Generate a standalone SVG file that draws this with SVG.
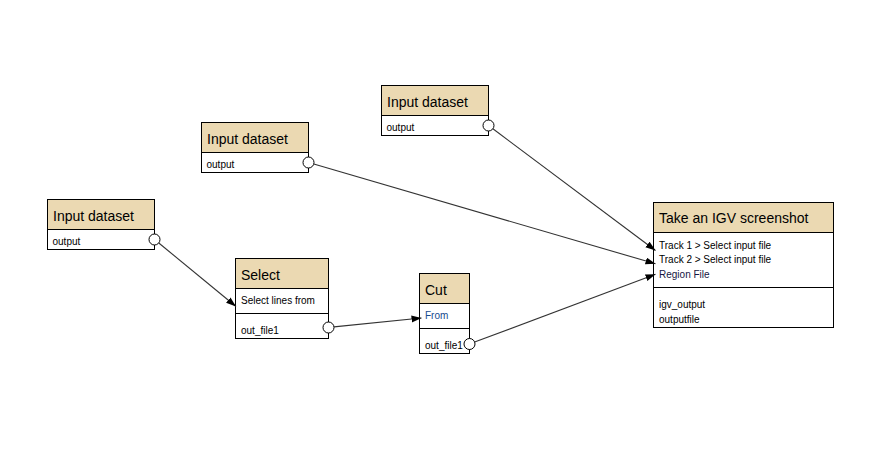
<svg xmlns="http://www.w3.org/2000/svg" width="886" height="464" viewBox="0 0 886 464">
<style>
  .box { fill: #ffffff; stroke: #000000; stroke-width: 1; }
  .hdr { fill: #ebd9b2; stroke: #000000; stroke-width: 1; }
  .sep { stroke: #000000; stroke-width: 1; }
  .title { font-family: "Liberation Sans", Arial, sans-serif; font-size: 14px; fill: #000000; }
  .row { font-family: "Liberation Sans", Arial, sans-serif; font-size: 10px; fill: #000000; }
  .term { fill: #ffffff; stroke: #000000; stroke-width: 1; }
  .conn { stroke: #333333; stroke-width: 1.1; fill: none; marker-end: url(#arrow); }
</style>
<defs>
  <marker id="arrow" markerUnits="userSpaceOnUse" markerWidth="11" markerHeight="8" refX="10" refY="3.5" orient="auto">
    <path d="M0,0 L10,3.5 L0,7 z" fill="#000000"/>
  </marker>
</defs>
<rect x="0" y="0" width="886" height="464" fill="#ffffff"/>

<g id="input1">
  <rect class="box" x="47.5" y="199.5" width="107" height="50"/>
  <rect class="hdr" x="47.5" y="199.5" width="107" height="30"/>
  <text class="title" x="53" y="220.5">Input dataset</text>
  <text class="row" x="52.5" y="244.5">output</text>
  <circle class="term" cx="154.5" cy="239.5" r="5.5"/>
</g>

<g id="input2">
  <rect class="box" x="201.5" y="122.5" width="107" height="50"/>
  <rect class="hdr" x="201.5" y="122.5" width="107" height="30"/>
  <text class="title" x="207" y="143.5">Input dataset</text>
  <text class="row" x="206.5" y="167.5">output</text>
  <circle class="term" cx="308.5" cy="162.5" r="5.5"/>
</g>

<g id="input3">
  <rect class="box" x="381.5" y="85.5" width="107" height="50"/>
  <rect class="hdr" x="381.5" y="85.5" width="107" height="30"/>
  <text class="title" x="387" y="106.5">Input dataset</text>
  <text class="row" x="386.5" y="130.5">output</text>
  <circle class="term" cx="488.5" cy="125.5" r="5.5"/>
</g>

<g id="select">
  <rect class="box" x="235.5" y="258.5" width="93" height="80"/>
  <rect class="hdr" x="235.5" y="258.5" width="93" height="30"/>
  <line class="sep" x1="235.5" y1="313.5" x2="328.5" y2="313.5"/>
  <text class="title" x="241" y="279.5">Select</text>
  <text class="row" x="241" y="304">Select lines from</text>
  <text class="row" x="241" y="334">out_file1</text>
  <circle class="term" cx="328.5" cy="327.5" r="5.5"/>
</g>

<g id="cut">
  <rect class="box" x="419.5" y="273.5" width="50" height="80"/>
  <rect class="hdr" x="419.5" y="273.5" width="50" height="30"/>
  <line class="sep" x1="419.5" y1="328.5" x2="469.5" y2="328.5"/>
  <text class="title" x="425" y="294.5">Cut</text>
  <text class="row" x="425" y="319" style="fill:#174a8e">From</text>
  <text class="row" x="425" y="349">out_file1</text>
  <circle class="term" cx="469.5" cy="344" r="5.5"/>
</g>

<g id="igv">
  <rect class="box" x="653.5" y="202.5" width="180" height="125"/>
  <rect class="hdr" x="653.5" y="202.5" width="180" height="30"/>
  <line class="sep" x1="653.5" y1="287.5" x2="833.5" y2="287.5"/>
  <text class="title" x="659" y="223">Take an IGV screenshot</text>
  <text class="row" x="659" y="248.5">Track 1 &gt; Select input file</text>
  <text class="row" x="659" y="263">Track 2 &gt; Select input file</text>
  <text class="row" x="659" y="277.8" style="fill:#16163f">Region File</text>
  <text class="row" x="659" y="308">igv_output</text>
  <text class="row" x="659" y="322.5">outputfile</text>
</g>

<g id="connectors">
  <line class="conn" x1="492.9" y1="128.8" x2="655.5" y2="250.5"/>
  <line class="conn" x1="313.8" y1="164" x2="655.5" y2="263.8"/>
  <line class="conn" x1="474.6" y1="342.1" x2="655.5" y2="274.3"/>
  <line class="conn" x1="158.8" y1="243" x2="236" y2="306.5"/>
  <line class="conn" x1="334" y1="326.9" x2="421.5" y2="318"/>
</g>
</svg>
